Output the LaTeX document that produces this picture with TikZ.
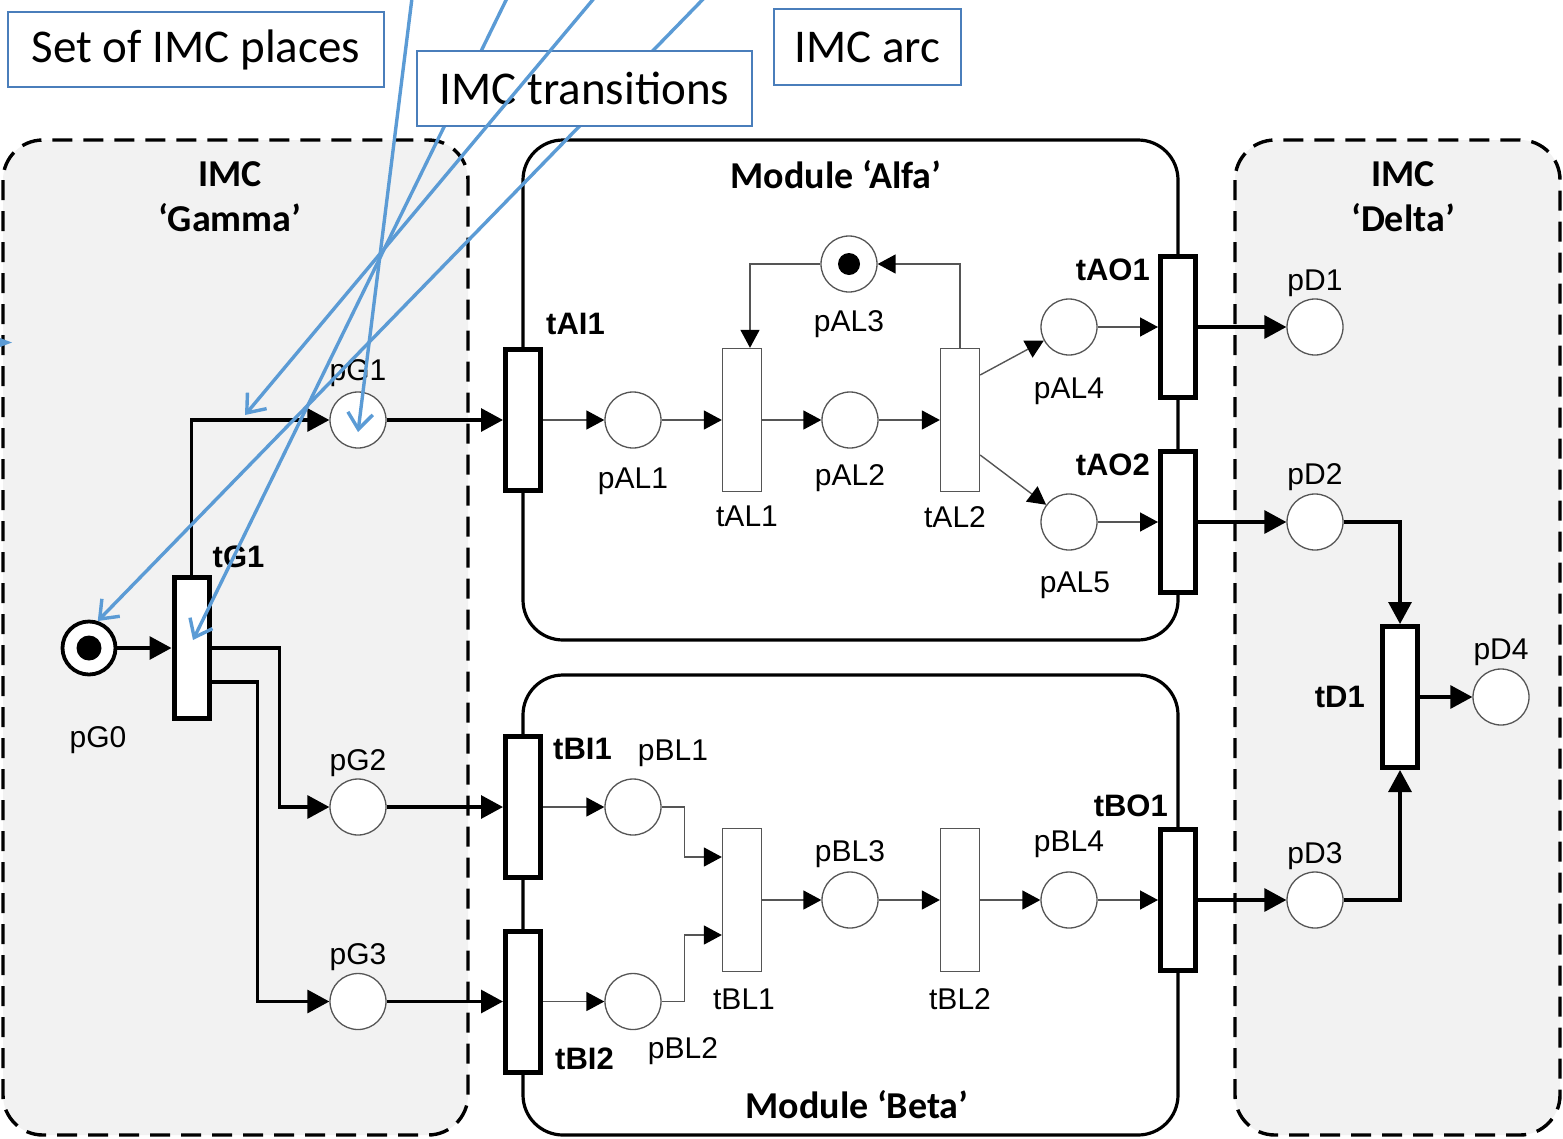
\documentclass[tikz,border=0pt]{standalone}
\usepackage{fontspec}
\setmainfont{Liberation Sans}
\newfontfamily\calibri{Carlito}
\usetikzlibrary{shapes,arrows,arrows.meta,positioning}
\definecolor{imcgray}{HTML}{F2F2F2}
\definecolor{noteblue}{HTML}{5B9BD5}
\definecolor{noteframe}{HTML}{4A7EBB}
\definecolor{arcgray}{HTML}{555555}
\tikzstyle{place} = [circle, draw=arcgray, line width=1.3pt, fill=white,
    minimum size=56pt, inner sep=0pt]
\tikzstyle{trans} = [rectangle, draw=arcgray, line width=1.3pt, fill=white,
    minimum width=39pt, minimum height=143pt, inner sep=0pt]
\tikzstyle{port} = [rectangle, draw, line width=5pt, fill=white,
    minimum width=35pt, minimum height=141pt, inner sep=0pt]
\tikzstyle{flow} = [draw, line width=3.2pt, -{Triangle[length=22pt,width=23pt]}]
\tikzstyle{thinflow} = [draw=arcgray, line width=1.4pt, -{Triangle[length=18pt,width=19pt,color=black]}]
\tikzstyle{lbl} = [inner sep=0pt, font=\fontsize{30}{36}\selectfont]
\tikzstyle{tlbl} = [inner sep=0pt, font=\bfseries\fontsize{31}{37}\selectfont]
\tikzstyle{boxtitle} = [inner sep=0pt, align=center, font=\calibri\bfseries\fontsize{38}{45}\selectfont]
\tikzstyle{imc} = [draw, line width=3.4pt, dash pattern=on 20pt off 11pt, fill=imcgray, rounded corners=40pt]
\tikzstyle{module} = [draw, line width=3.2pt, rounded corners=40pt]
\tikzstyle{note} = [draw=noteframe, line width=2.4pt, fill=white, inner sep=0pt,
    font=\calibri\fontsize{47}{56}\selectfont]
\tikzstyle{pointer} = [draw=noteblue, line width=3.4pt, -{Straight Barb[length=16pt,width=25pt]}]

\begin{document}
\begin{tikzpicture}[x=1pt, y=-1pt]
	\useasboundingbox (0,0) rectangle (1563,1138);

	\draw[imc] (3,140) rectangle (468,1135);
	\draw[imc] (1235,140) rectangle (1560,1135);
	\draw[module] (523,140) rectangle (1178,640);
	\draw[module] (523,675) rectangle (1178,1135);

	\node[boxtitle] (gamma) at (230,197) {IMC\\‘Gamma’};
	\node[boxtitle] (delta) at (1403,197) {IMC\\‘Delta’};
	\node[boxtitle] (alfa) at (836,175) {Module ‘Alfa’};
	\node[boxtitle] (beta) at (857,1105) {Module ‘Beta’};

	% IMC Gamma
	\node[place, draw=black, line width=3.8pt, minimum size=53pt] (pG0) at (89,648) {};
	\node[port] (tG1) at (191.5,648) {};
	\node[place] (pG1) at (358,420) {};
	\node[place] (pG2) at (358,807) {};
	\node[place] (pG3) at (358,1001.5) {};

	% module Alfa
	\node[port] (tAI1) at (523,420) {};
	\node[place] (pAL1) at (633,420) {};
	\node[trans] (tAL1) at (742,420) {};
	\node[place] (pAL2) at (850,420) {};
	\node[trans] (tAL2) at (960,420) {};
	\node[place] (pAL3) at (849,264) {};
	\node[place] (pAL4) at (1069,327) {};
	\node[place] (pAL5) at (1069,522) {};
	\node[port] (tAO1) at (1178,327) {};
	\node[port] (tAO2) at (1178,522) {};

	% module Beta
	\node[port] (tBI1) at (523,807) {};
	\node[port] (tBI2) at (523,1001.5) {};
	\node[place] (pBL1) at (633,807) {};
	\node[place] (pBL2) at (633,1001.5) {};
	\node[trans] (tBL1) at (742,900) {};
	\node[place] (pBL3) at (850,900) {};
	\node[trans] (tBL2) at (960,900) {};
	\node[place] (pBL4) at (1069,900) {};
	\node[port] (tBO1) at (1178,900) {};

	% IMC Delta
	\node[place] (pD1) at (1315,327) {};
	\node[place] (pD2) at (1315,522) {};
	\node[place] (pD3) at (1315,900) {};
	\node[port] (tD1) at (1400,697) {};
	\node[place] (pD4) at (1501,697) {};

	\fill (pG0) circle (12.5pt);
	\fill (pAL3) circle (11pt);

	\node[lbl, below=50pt of pG0, xshift=9pt] (lpG0) {pG0};
	\node[tlbl, above right=7pt and 1pt of tG1] (ltG1) {tG1};
	\node[lbl, above=4pt of pG1] (lpG1) {pG1};
	\node[lbl, above=1pt of pG2] (lpG2) {pG2};
	\node[lbl, above=2pt of pG3] (lpG3) {pG3};
	\node[tlbl, above right=12pt and 3pt of tAI1] (ltAI1) {tAI1};
	\node[lbl, below=19pt of pAL1] (lpAL1) {pAL1};
	\node[lbl, below=14pt of tAL1, xshift=5pt] (ltAL1) {tAL1};
	\node[lbl, below=16pt of pAL2] (lpAL2) {pAL2};
	\node[lbl, below=14pt of tAL2, xshift=-5pt] (ltAL2) {tAL2};
	\node[lbl, below=18pt of pAL3] (lpAL3) {pAL3};
	\node[lbl, below=22pt of pAL4] (lpAL4) {pAL4};
	\node[lbl, below=21pt of pAL5, xshift=6pt] (lpAL5) {pAL5};
	\node[tlbl, below left=5pt and 8pt of tAO1.north west] (ltAO1) {tAO1};
	\node[tlbl, below left=5pt and 8pt of tAO2.north west] (ltAO2) {tAO2};
	\node[tlbl, below right=4pt and 10pt of tBI1.north east] (ltBI1) {tBI1};
	\node[tlbl, above right=5pt and 12pt of tBI2.south east] (ltBI2) {tBI2};
	\node[lbl, above=11pt of pBL1, xshift=40pt] (lpBL1) {pBL1};
	\node[lbl, below=7pt of pBL2, xshift=50pt] (lpBL2) {pBL2};
	\node[lbl, below=16pt of tBL1, xshift=2pt] (ltBL1) {tBL1};
	\node[lbl, above=3pt of pBL3] (lpBL3) {pBL3};
	\node[lbl, below=16pt of tBL2] (ltBL2) {tBL2};
	\node[lbl, above=13pt of pBL4] (lpBL4) {pBL4};
	\node[tlbl, above left=10pt and 10pt of tBO1.north] (ltBO1) {tBO1};
	\node[lbl, above=1pt of pD1] (lpD1) {pD1};
	\node[lbl, above=2pt of pD2] (lpD2) {pD2};
	\node[lbl, above=1pt of pD3] (lpD3) {pD3};
	\node[tlbl, left=15pt of tD1] (ltD1) {tD1};
	\node[lbl, above=2pt of pD4] (lpD4) {pD4};

	\path[flow] (pG0) -- (tG1);
	\path[flow] (tG1.north) |- (pG1);
	\path[flow] (tG1.east) -- ++(68,0) |- (pG2);
	\path[flow] ([yshift=-34pt]tG1.east) -- ++(46,0) |- (pG3);
	\path[flow] (pG1) -- (tAI1);
	\path[flow] (pG2) -- (tBI1);
	\path[flow] (pG3) -- (tBI2);

	\path[thinflow] (tAI1) -- (pAL1);
	\path[thinflow] (pAL1) -- (tAL1);
	\path[thinflow] (tAL1) -- (pAL2);
	\path[thinflow] (pAL2) -- (tAL2);
	\path[thinflow] (tAL2.north) |- (pAL3);
	\path[thinflow] (pAL3) -| ([xshift=8pt]tAL1.north);
	\path[thinflow] ([yshift=45pt]tAL2.east) -- (pAL4);
	\path[thinflow] ([yshift=-35pt]tAL2.east) -- (pAL5);
	\path[thinflow] (pAL4) -- (tAO1);
	\path[thinflow] (pAL5) -- (tAO2);

	\path[thinflow] (tBI1) -- (pBL1);
	\path[thinflow] (tBI2) -- (pBL2);
	\path[thinflow] (pBL1.east) -- ++(23,0) |- ([yshift=43pt]tBL1.west);
	\path[thinflow] (pBL2.east) -- ++(23,0) |- ([yshift=-35pt]tBL1.west);
	\path[thinflow] (tBL1) -- (pBL3);
	\path[thinflow] (pBL3) -- (tBL2);
	\path[thinflow] (tBL2) -- (pBL4);
	\path[thinflow] (pBL4) -- (tBO1);

	\path[flow] (tAO1) -- (pD1);
	\path[flow] (tAO2) -- (pD2);
	\path[flow] (tBO1) -- (pD3);
	\path[flow] (pD2.east) -| (tD1.north);
	\path[flow] (pD3.east) -| (tD1.south);
	\path[flow] (tD1) -- (pD4);

	\coordinate (srcA) at (413,-10);
	\coordinate (srcB) at (511,-10);
	\coordinate (srcC) at (601,-10);
	\coordinate (srcD) at (712,-10);
	\coordinate (hitC) at (245,415);

	\draw[pointer] (srcB) -- ([shift={(1.5pt,8pt)}]tG1.center);
	\draw[pointer] (srcD) -- (pG0.72);

	\node[note, minimum width=376pt, minimum height=75pt] (places) at (196,49.5) {Set of IMC places};
	\node[note, minimum width=335pt, minimum height=75pt] (transitions) at (584.5,88.5) {IMC transitions};
	\node[note, minimum width=187pt, minimum height=76pt] (arcnote) at (867.5,47) {IMC arc};

	\draw[pointer] (srcC) -- (hitC);
	\draw[pointer] (srcA) -- ([yshift=-12pt]pG1.center);
	\fill[noteblue] (0,338) -- (12,342.5) -- (0,347) -- cycle;
\end{tikzpicture}
\end{document}
